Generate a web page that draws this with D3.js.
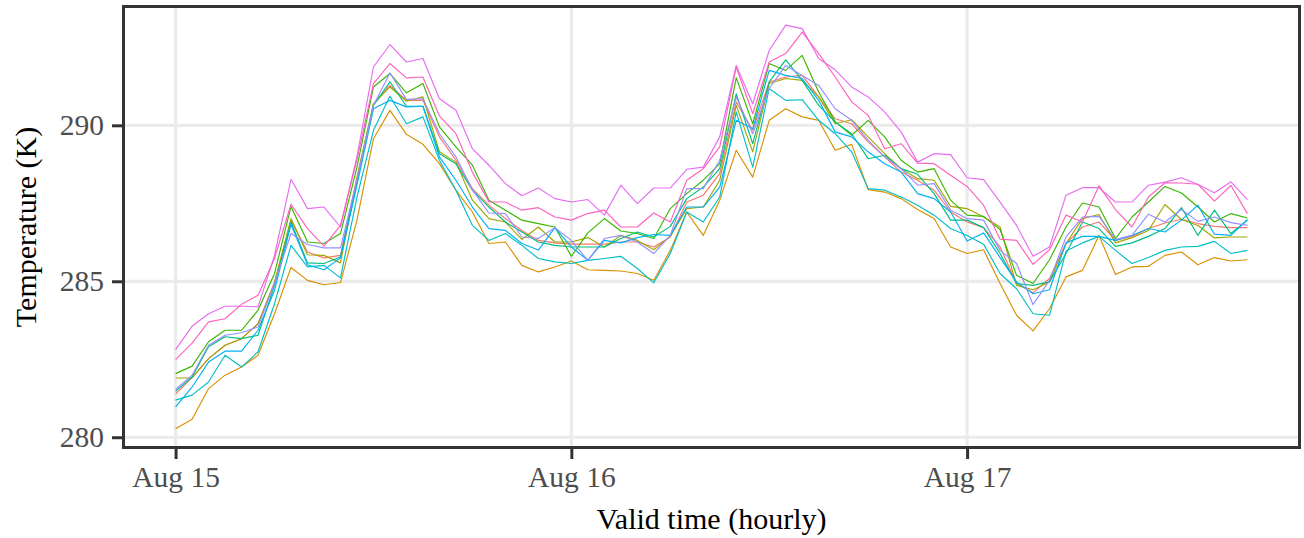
<!DOCTYPE html>
<html>
<head>
<meta charset="utf-8">
<script src="https://cdn.jsdelivr.net/npm/d3@7"></script>
<style>
  html, body { margin: 0; padding: 0; background: #ffffff; }
  svg { display: block; }
  text { font-family: "Liberation Serif", "Times New Roman", "DejaVu Serif", serif; }
</style>
</head>
<body>
<svg id="chart" width="1304" height="538"></svg>
<script>
// ---- data (hourly valid times, Aug 15 00:00 onwards) ----
const startTime = "2023-08-15T00:00:00Z";
const nHours = 66;
const xTickLabels = ["Aug 15", "Aug 16", "Aug 17"];
const yTicks = [280, 285, 290];
const seriesNames = ["m01","m02","m03","m04","m05","m06","m07","m08","m09","m10"];
const seriesColors = ["#F8766D","#D89000","#A3A500","#39B600","#00BF7D","#00BFC4","#00B0F6","#9590FF","#E76BF3","#FF62BC"];

const m01 = [281.38,281.91,282.52,282.95,283.16,283.64,284.98,286.96,285.94,285.75,285.83,288.34,290.69,291.28,290.80,290.80,289.63,288.88,287.97,287.44,287.01,286.63,286.31,286.23,286.19,286.19,286.19,286.26,286.26,286.10,286.42,287.54,287.76,288.45,290.75,289.84,291.39,291.55,291.60,290.91,290.21,290.05,289.47,288.99,288.50,288.24,287.92,287.22,286.90,286.72,286.10,284.93,284.63,285.09,286.21,286.74,286.90,286.31,286.44,286.69,286.87,286.99,286.85,286.76,286.72,286.72];
const m02 = [280.27,280.58,281.56,281.99,282.25,282.63,283.96,285.44,285.03,284.89,284.96,286.96,289.57,290.48,289.71,289.39,288.77,287.92,287.22,286.21,286.26,285.51,285.30,285.46,285.65,285.37,285.35,285.33,285.25,285.03,285.99,287.22,286.47,287.60,289.20,288.34,290.16,290.53,290.27,290.16,289.20,289.39,287.94,287.86,287.65,287.30,287.01,286.10,285.89,286.01,284.93,283.91,283.41,284.12,285.14,285.35,286.47,285.22,285.46,285.48,285.83,285.94,285.53,285.76,285.65,285.69];
const m03 = [281.90,281.90,282.52,282.95,283.16,283.64,284.93,287.01,285.85,285.83,285.59,288.29,290.69,291.23,290.77,290.91,289.15,288.82,287.60,287.01,286.90,286.34,286.74,286.26,286.26,286.40,286.10,286.47,286.31,286.01,286.44,287.33,287.38,288.24,290.64,289.15,291.34,291.50,291.44,290.91,290.05,290.18,289.63,289.09,288.61,288.29,288.24,287.40,287.33,287.06,286.74,284.87,284.73,284.98,286.21,287.01,287.14,286.23,286.40,286.63,287.46,286.98,286.79,286.39,286.42,286.42];
const m04 = [282.04,282.28,283.06,283.43,283.43,284.07,285.25,287.40,286.26,286.21,286.53,288.66,291.23,291.66,291.04,291.34,289.95,289.31,288.72,287.60,287.28,286.96,286.85,286.74,285.80,286.55,287.01,286.61,286.53,286.37,287.33,287.81,288.24,288.77,291.53,290.05,291.98,291.76,292.24,291.07,290.11,289.68,290.16,289.63,288.88,288.50,288.61,287.60,287.12,287.08,286.66,285.19,284.93,285.69,286.74,287.51,287.38,286.37,287.06,287.54,288.04,287.83,287.38,286.90,287.17,287.03];
const m05 = [281.47,281.93,282.90,283.22,283.16,283.27,284.87,286.90,285.59,285.57,285.78,288.18,290.64,291.39,290.61,290.61,289.09,288.77,287.92,287.38,286.90,286.58,286.26,286.15,286.10,286.10,286.10,286.37,286.58,286.42,286.76,287.65,288.02,288.61,291.01,289.41,291.39,292.10,291.44,290.64,290.11,289.73,288.93,289.04,288.61,288.43,287.81,286.96,286.96,286.72,285.89,284.93,284.87,284.98,285.89,286.90,286.69,286.12,286.23,286.44,286.69,287.36,286.47,287.28,286.53,286.96];
const m06 = [281.19,281.35,281.77,282.63,282.25,282.74,284.28,286.15,285.46,285.51,285.11,287.70,289.84,290.93,290.05,290.27,288.88,287.92,286.79,286.31,286.53,286.15,285.73,285.62,285.57,285.67,285.73,285.80,285.41,284.95,285.89,287.22,286.90,287.70,290.43,288.66,291.18,290.80,290.82,290.16,289.73,289.15,287.97,287.92,287.70,287.44,287.12,286.69,286.47,286.19,285.25,284.76,283.96,283.91,285.97,286.23,286.44,285.99,285.57,285.76,285.99,286.10,286.12,286.28,285.89,285.99];
const m07 = [280.97,281.61,282.41,282.76,282.76,283.43,284.71,286.83,285.53,285.37,285.75,288.08,290.53,290.80,290.59,290.61,288.99,288.24,287.38,286.69,286.63,286.21,286.00,286.72,286.10,285.67,286.31,286.23,286.40,286.50,286.47,287.38,287.38,288.02,290.16,289.89,291.76,291.60,291.50,290.80,289.79,289.63,289.15,288.77,288.50,287.81,287.65,287.22,286.29,286.55,285.76,284.98,284.60,284.73,286.23,286.44,286.44,286.31,286.47,286.69,286.58,286.96,287.44,286.51,286.47,286.98];
const m08 = [281.53,281.99,282.95,283.27,283.35,283.54,284.93,286.53,286.18,286.07,286.07,288.24,290.64,291.68,290.83,290.85,289.73,288.99,287.92,287.19,287.17,286.42,286.37,286.72,286.31,285.67,286.37,286.47,286.26,285.89,286.47,287.97,287.97,288.88,290.91,289.73,291.18,291.92,291.60,291.28,290.53,290.16,289.52,288.99,288.61,288.08,288.13,287.28,287.01,286.96,285.99,285.57,284.25,285.03,286.42,287.06,287.08,286.34,286.47,287.15,286.90,287.30,286.92,287.06,286.88,286.79];
const m09 = [282.81,283.56,283.96,284.20,284.20,284.18,285.83,288.27,287.33,287.38,286.74,289.00,291.87,292.59,292.03,292.14,290.85,290.48,289.25,288.72,288.13,287.74,287.99,287.65,287.54,287.62,287.12,288.08,287.49,287.99,287.99,288.59,288.66,289.63,291.92,290.69,292.40,293.21,293.10,292.14,291.78,291.23,290.91,290.43,289.79,288.82,289.09,289.06,288.32,288.26,287.54,286.79,285.80,286.10,287.76,288.00,288.00,287.54,287.54,288.08,288.18,288.32,288.10,287.84,288.19,287.62];
const m10 = [282.49,283.02,283.70,283.80,284.26,284.55,285.73,287.47,286.69,286.13,286.79,288.90,291.34,291.98,291.52,291.55,290.30,289.73,288.50,287.54,287.54,287.28,287.36,287.06,286.96,287.17,287.28,286.74,286.74,287.19,286.90,288.24,288.61,289.31,291.87,290.37,292.03,292.30,292.99,292.30,291.55,290.75,290.32,289.25,289.41,288.79,288.77,288.40,288.04,287.44,286.35,286.31,285.54,286.01,287.12,286.90,288.06,287.30,286.74,287.70,288.16,288.15,288.11,287.57,288.07,287.17];

const seriesValues = [m01,m02,m03,m04,m05,m06,m07,m08,m09,m10];

// ---- layout ----
const panel = { left: 122, right: 1301, top: 5, bottom: 449 };
const svg = d3.select("#chart");

const t0 = new Date(startTime);
const times = d3.range(nHours).map(i => d3.utcHour.offset(t0, i));
const series = seriesNames.map((name, i) => ({
  name, color: seriesColors[i],
  points: seriesValues[i].map((v, j) => ({ t: times[j], v }))
}));

// ggplot-like 5% expansion
const tExt = d3.extent(times);
const tSpan = tExt[1] - tExt[0];
const x = d3.scaleUtc()
  .domain([new Date(+tExt[0] - 0.05 * tSpan), new Date(+tExt[1] + 0.05 * tSpan)])
  .range([panel.left, panel.right]);

const allV = seriesValues.flat();
const vExt = d3.extent(allV);
const vSpan = vExt[1] - vExt[0];
const y = d3.scaleLinear()
  .domain([vExt[0] - 0.05 * vSpan, vExt[1] + 0.05 * vSpan])
  .range([panel.bottom, panel.top]);

const xTickDates = xTickLabels.map((_, i) => d3.utcDay.offset(t0, i));

// panel background
svg.append("rect")
  .attr("x", panel.left).attr("y", panel.top)
  .attr("width", panel.right - panel.left).attr("height", panel.bottom - panel.top)
  .attr("fill", "#ffffff");

// gridlines
const grid = svg.append("g");
grid.selectAll("line.gx").data(xTickDates).join("line")
  .attr("x1", d => x(d)).attr("x2", d => x(d))
  .attr("y1", panel.top).attr("y2", panel.bottom)
  .attr("stroke", "#EBEBEB").attr("stroke-width", 3.2);
grid.selectAll("line.gy").data(yTicks).join("line")
  .attr("x1", panel.left).attr("x2", panel.right)
  .attr("y1", d => y(d)).attr("y2", d => y(d))
  .attr("stroke", "#EBEBEB").attr("stroke-width", 3.2);

// lines
const clipId = "panelClip";
svg.append("clipPath").attr("id", clipId).append("rect")
  .attr("x", panel.left).attr("y", panel.top)
  .attr("width", panel.right - panel.left).attr("height", panel.bottom - panel.top);

const line = d3.line().x(d => x(d.t)).y(d => y(d.v));
svg.append("g").attr("clip-path", `url(#${clipId})`)
  .selectAll("path").data(series).join("path")
  .attr("d", d => line(d.points))
  .attr("fill", "none")
  .attr("stroke", d => d.color)
  .attr("stroke-width", 1.15)
  .attr("stroke-linejoin", "round");

// panel border
svg.append("rect")
  .attr("x", panel.left + 1.5).attr("y", panel.top + 1.5)
  .attr("width", panel.right - panel.left - 3).attr("height", panel.bottom - panel.top - 3)
  .attr("fill", "none").attr("stroke", "#333333").attr("stroke-width", 3);

// axes
const xAxis = d3.axisBottom(x)
  .tickValues(xTickDates)
  .tickFormat((d, i) => xTickLabels[i])
  .tickSize(10).tickPadding(7).tickSizeOuter(0);
const gx = svg.append("g").attr("transform", `translate(0,${panel.bottom})`).call(xAxis);
gx.select(".domain").remove();
gx.selectAll(".tick line").attr("stroke", "#333333").attr("stroke-width", 3);
gx.selectAll(".tick text").attr("fill", "#4D4D4D").attr("font-size", 29.5)
  .attr("font-family", "Liberation Serif, serif");

const yAxis = d3.axisLeft(y)
  .tickValues(yTicks)
  .tickSize(10).tickPadding(8).tickSizeOuter(0);
const gy = svg.append("g").attr("transform", `translate(${panel.left},0)`).call(yAxis);
gy.select(".domain").remove();
gy.selectAll(".tick line").attr("stroke", "#333333").attr("stroke-width", 3);
gy.selectAll(".tick text").attr("fill", "#4D4D4D").attr("font-size", 29.5)
  .attr("font-family", "Liberation Serif, serif");

// titles
svg.append("text")
  .attr("x", (panel.left + panel.right) / 2).attr("y", 529)
  .attr("text-anchor", "middle").attr("font-size", 30).attr("fill", "#000")
  .text("Valid time (hourly)");
svg.append("text")
  .attr("transform", `translate(36,${(panel.top + panel.bottom) / 2}) rotate(-90)`)
  .attr("text-anchor", "middle").attr("font-size", 30).attr("fill", "#000")
  .text("Temperature (K)");
</script>
</body>
</html>
